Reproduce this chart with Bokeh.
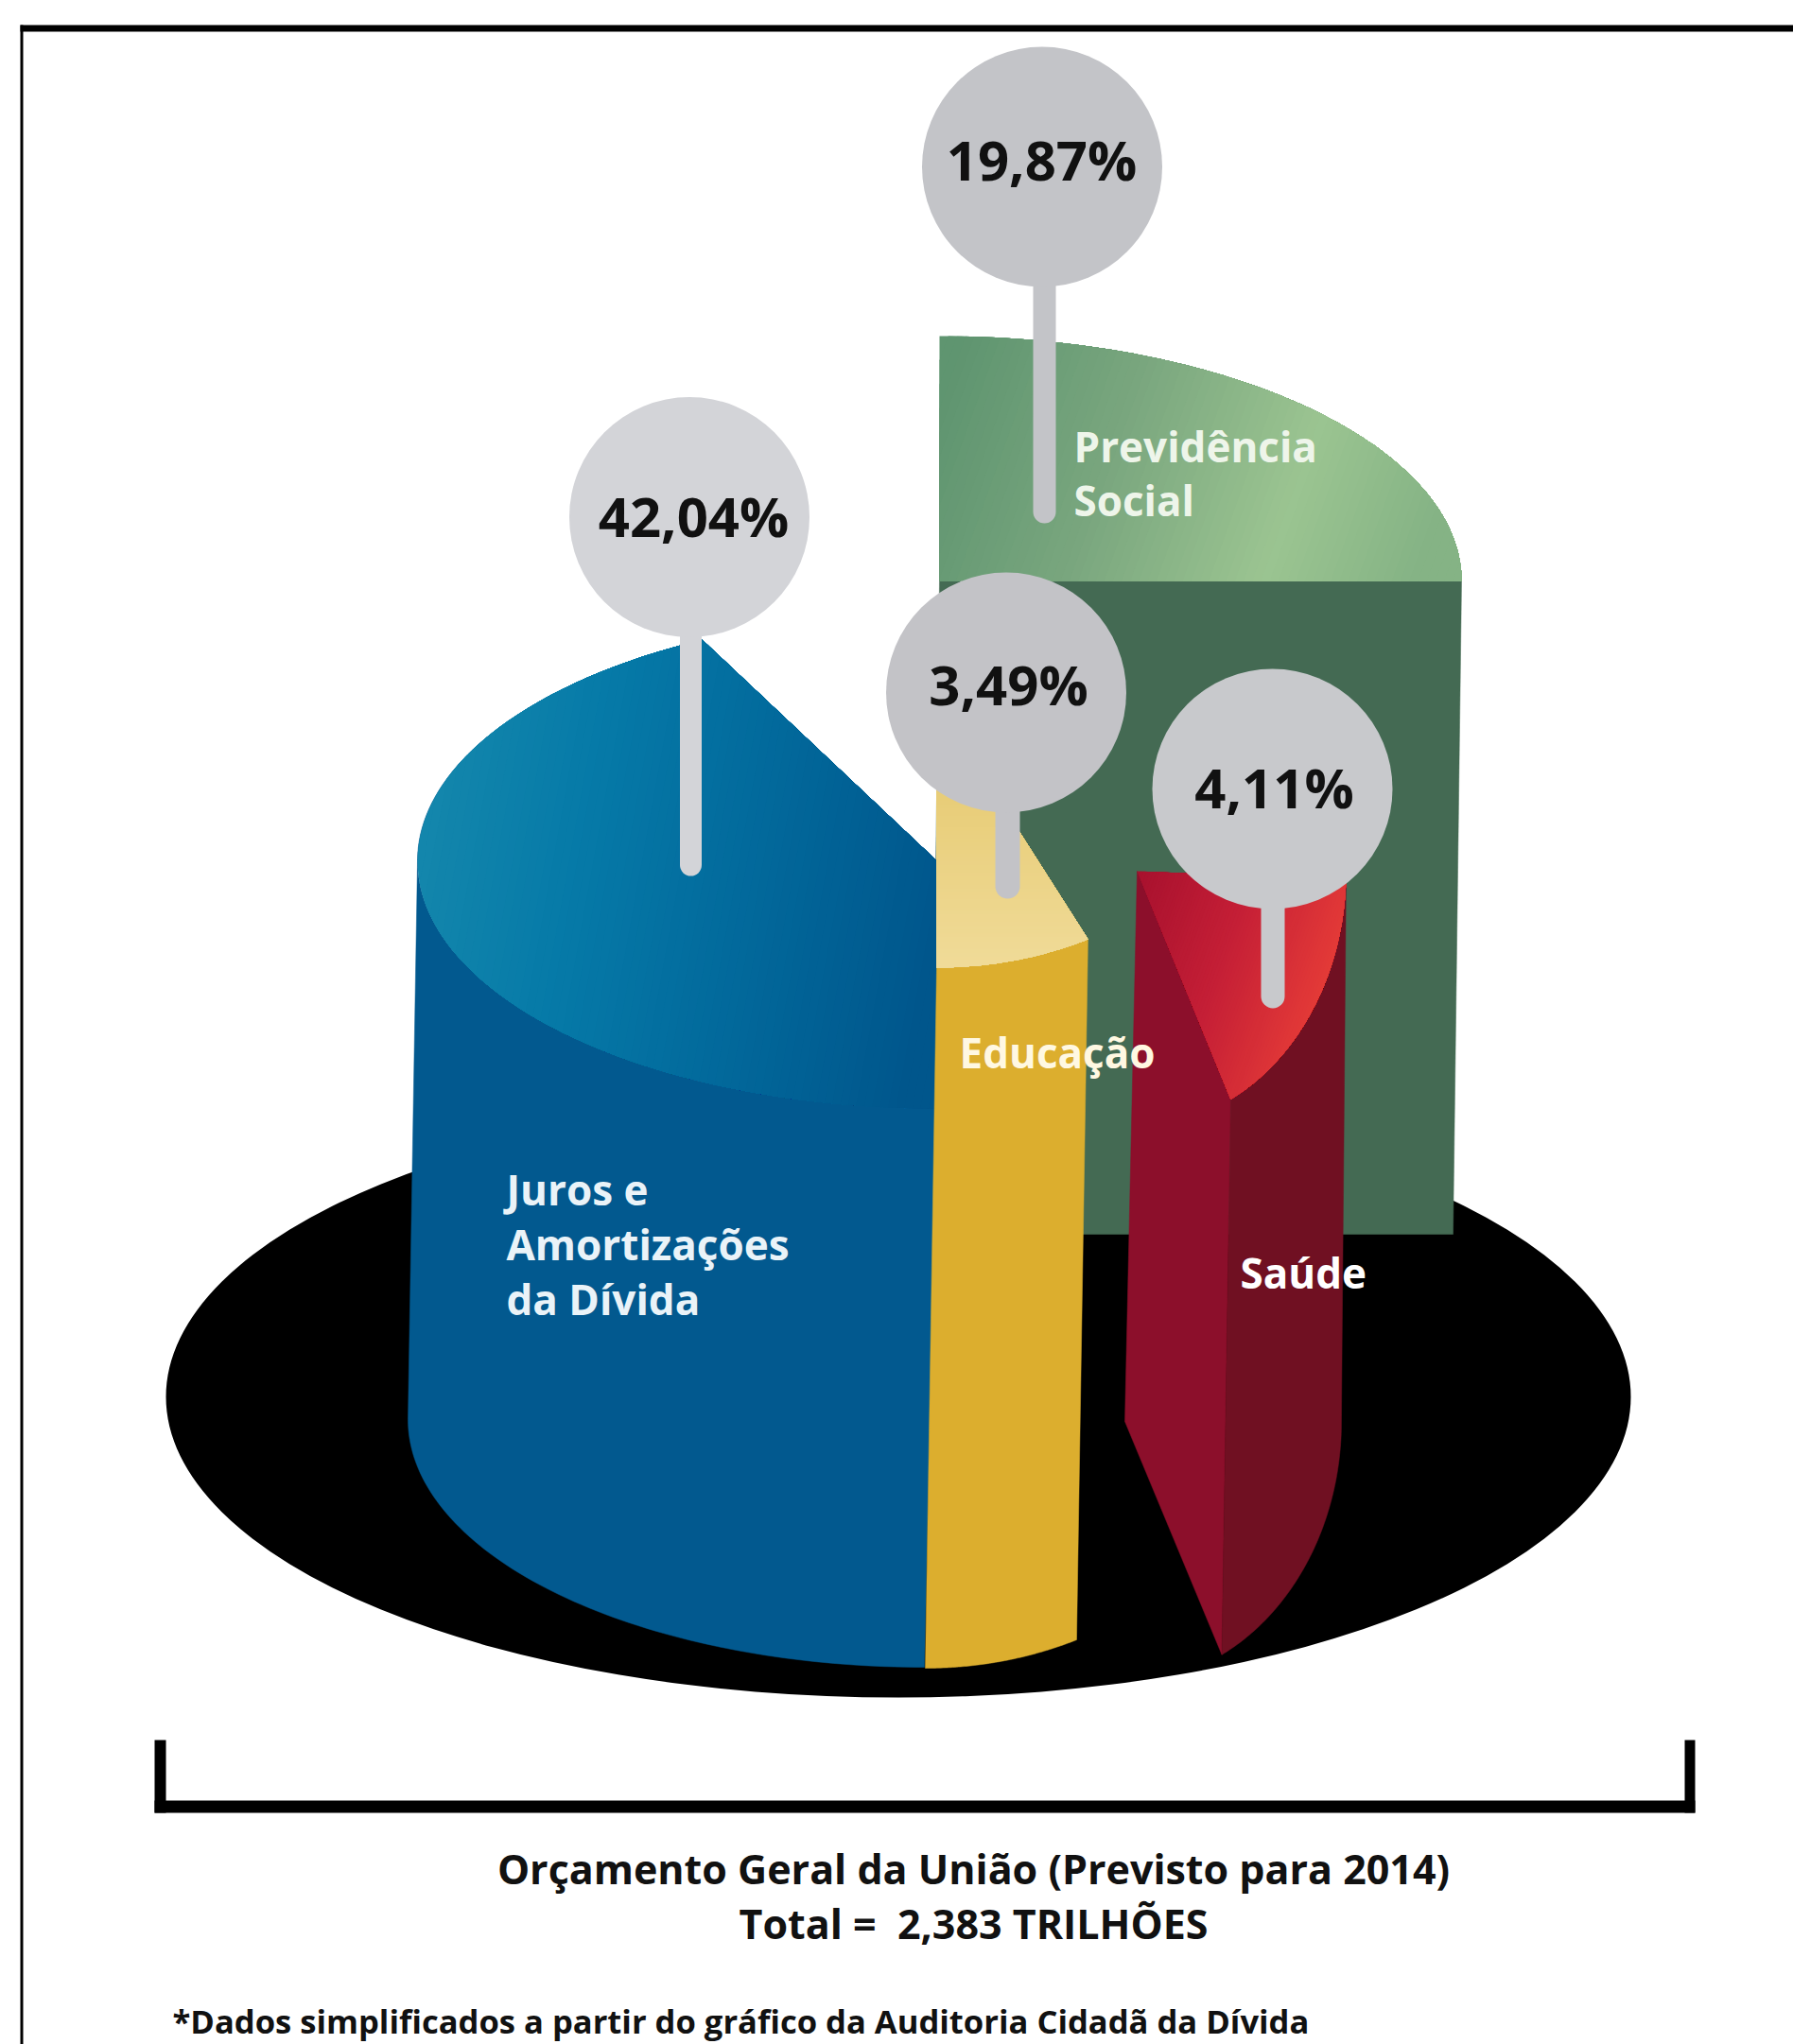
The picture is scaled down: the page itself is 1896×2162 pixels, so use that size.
from bokeh.embed import file_html
from bokeh.models import Range1d
from bokeh.plotting import figure
from bokeh.resources import INLINE
from bokeh.core.properties import value
import math

# Budget shares (%) and their labels
shares = [42.04, 3.49, 19.87, 4.11]
share_labels = ["42,04%", "3,49%", "19,87%", "4,11%"]
title_lines = ["Orçamento Geral da União (Previsto para 2014)", "Total =\u00a0 2,383 TRILHÕES"]
footnote = "*Dados simplificados a partir do gráfico da Auditoria Cidadã da Dívida"

W, H = 1896, 2162
FONT = "Open Sans"

# Each slice is a sector of an elliptic cylinder; the sweep comes from its share,
# times a per-slice foreshortening factor for the tilted view.
JUROS = dict(top=(990, 910), base=(977, 1501), rx=549, ry=262, start=270, sign=-1, stretch=1.012)
EDUC = dict(top=(990, 742), base=(978, 1483), rx=356, ry=281, start=270, sign=1, stretch=2.125)
PREV = dict(top=(993, 614), base=(984, 1305), rx=552, ry=259, start=0, sign=1, stretch=1.2582)
SAUDE = dict(top=(1202, 921), base=(1189, 1503), rx=221, ry=270, start=-63.4, sign=1, stretch=4.15)
JUROS_BASE = {**JUROS, "rx": 546}
SAUDE_BASE = {**SAUDE, "rx": 229, "ry": 276}


def rim(center, s, deg):
    a = math.radians(deg)
    return (center[0] + s["rx"] * math.cos(a), center[1] - s["ry"] * math.sin(a))


def sector_end(s, share):
    return s["start"] + s["sign"] * share * 3.6 * s["stretch"]


def arc(center, s, a0, a1, n=80):
    return [rim(center, s, a0 + (a1 - a0) * i / n) for i in range(n + 1)]


def clip(poly, n, lo, hi):
    # Keep the part of a convex polygon with lo <= dot(point, n) <= hi.
    def half(pts, f):
        out = []
        for i, q in enumerate(pts):
            r = pts[(i + 1) % len(pts)]
            fq, fr = f(q), f(r)
            if fq >= 0:
                out.append(q)
            if fq * fr < 0:
                t = fq / (fq - fr)
                out.append((q[0] + t * (r[0] - q[0]), q[1] + t * (r[1] - q[1])))
        return out
    d = lambda q: q[0] * n[0] + q[1] * n[1]
    res = half(poly, lambda q: d(q) - lo)
    return half(res, lambda q: hi - d(q)) if res else res


def mix(stops, t):
    for (t0, c0), (t1, c1) in zip(stops, stops[1:]):
        if t <= t1:
            u = (t - t0) / (t1 - t0)
            break
    else:
        return stops[-1][1]
    rgb = [int(c0[i:i + 2], 16) + u * (int(c1[i:i + 2], 16) - int(c0[i:i + 2], 16)) for i in (1, 3, 5)]
    return "#%02x%02x%02x" % tuple(round(v) for v in rgb)


def gradient(fig, poly, p0, p1, stops, steps=70):
    # Linear gradient painted as thin overlapping bands.
    dx, dy = p1[0] - p0[0], p1[1] - p0[1]
    L = math.hypot(dx, dy)
    n = (dx / L, dy / L)
    o = p0[0] * n[0] + p0[1] * n[1]
    vals = [q[0] * n[0] + q[1] * n[1] for q in poly]
    lo, hi = min(vals), max(vals)
    xs, ys, cols = [], [], []
    for i in range(steps):
        a = lo + (hi - lo) * i / steps
        band = clip(poly, n, a, hi)
        if len(band) < 3:
            continue
        xs.append([q[0] for q in band])
        ys.append([q[1] for q in band])
        cols.append(mix(stops, min(1, max(0, (a - o) / L))))
    fig.patches(xs, ys, fill_color=cols, line_color=None)


def fill(fig, poly, color):
    fig.patch([q[0] for q in poly], [q[1] for q in poly], fill_color=color, line_color=color, line_width=0.5)


p = figure(width=W, height=H, output_backend="svg", toolbar_location=None,
           x_range=Range1d(0, W), y_range=Range1d(H, 0), min_border=0,
           background_fill_color="#ffffff", border_fill_color="#ffffff", outline_line_color=None)
p.axis.visible = False
p.grid.visible = False

# Outer frame
p.quad(left=[21, 21], right=[W, 24], top=[26, 26], bottom=[33, H], fill_color="#000000", line_color=None)

# Base disc
p.ellipse(x=[949.5], y=[1477], width=[1549], height=[636], fill_color="#000000", line_color=None)

# Previdência Social
end = sector_end(PREV, shares[2])
fill(p, [PREV["top"], rim(PREV["top"], PREV, 0), rim(PREV["base"], PREV, 0), PREV["base"]], "#446a53")
gradient(p, [PREV["top"]] + arc(PREV["top"], PREV, 0, end), (999, 400), (1500, 580),
         [(0, "#5f9570"), (0.35, "#79a67e"), (0.72, "#9bc491"), (1, "#85b385")])

# Juros e Amortizações
end = sector_end(JUROS, shares[0])
fill(p, arc(JUROS["top"], JUROS, 150, 270) + arc(JUROS_BASE["base"], JUROS_BASE, 270, 180) + [rim(JUROS["top"], JUROS, 180)], "#02598f")
gradient(p, [JUROS["top"]] + arc(JUROS["top"], JUROS, end, 270), (441, 860), (990, 960),
         [(0, "#1487ac"), (0.3, "#067aa8"), (0.62, "#026a9c"), (1, "#00568c")])

# Educação
end = sector_end(EDUC, shares[1])
fill(p, arc(EDUC["top"], EDUC, 270, end) + arc(EDUC["base"], EDUC, end, 270), "#dcae2e")
gradient(p, [EDUC["top"]] + arc(EDUC["top"], EDUC, 270, end), (1070, 840), (1070, 1020),
         [(0, "#e8cd78"), (1, "#f0db98")])

# Saúde
end = sector_end(SAUDE, shares[3])
fill(p, [SAUDE["top"], rim(SAUDE["top"], SAUDE, SAUDE["start"]), rim(SAUDE_BASE["base"], SAUDE_BASE, SAUDE["start"]), SAUDE["base"]], "#8c0f2b")
fill(p, arc(SAUDE["top"], SAUDE, SAUDE["start"], end) + arc(SAUDE_BASE["base"], SAUDE_BASE, end, SAUDE["start"]), "#701022")
gradient(p, [SAUDE["top"]] + arc(SAUDE["top"], SAUDE, SAUDE["start"], end), (1202, 921), (1422, 1000),
         [(0, "#a8112e"), (0.5, "#c51f36"), (1, "#e63c37")])

# Value pins: head circle, stem, label
pins = [
    dict(c=(728.5, 546.5), r=127, tip=926, sx=730, w=23, col="#d3d4d8"),
    dict(c=(1063.5, 732), r=127, tip=950, sx=1065, w=26, col="#c3c3c7"),
    dict(c=(1101.5, 176), r=127, tip=553, sx=1104, w=24, col="#c3c4c8"),
    dict(c=(1345, 834), r=127, tip=1066, sx=1345.5, w=25, col="#c8c9cc"),
]
label_pos = [(733, 545), (1066, 723), (1101, 168), (1347, 832)]
for pin, txt, pos in zip(pins, share_labels, label_pos):
    p.line([pin["sx"], pin["sx"]], [pin["c"][1], pin["tip"] - pin["w"] / 2], line_width=pin["w"],
           line_color=pin["col"], line_cap="round")
    p.circle(x=[pin["c"][0]], y=[pin["c"][1]], radius=pin["r"], fill_color=pin["col"], line_color=None)
    p.text(x=[pos[0]], y=[pos[1]], text=[txt], text_font=value(FONT), text_font_style="bold",
           text_font_size="58px", text_align="center", text_baseline="middle", text_color="#111111")

# Slice names
names = [
    (["Juros e", "Amortizações", "da Dívida"], 535, [1257, 1315, 1373], "#eaf3f8"),
    (["Previdência", "Social"], 1135, [471, 528], "#eef5ea"),
    (["Educação"], 1014, [1112], "#fff8e2"),
    (["Saúde"], 1311, [1345], "#ffffff"),
]
for lines, x, ys, col in names:
    p.text(x=[x] * len(lines), y=ys, text=lines, text_font=value(FONT), text_font_style="bold",
           text_font_size="44px", text_align="left", text_baseline="middle", text_color=col)

# Bracket under the disc
p.quad(left=[163, 1781, 163], right=[175, 1792, 1792], top=[1840, 1840, 1904], bottom=[1917, 1917, 1917],
       fill_color="#000000", line_color=None)

# Caption
p.text(x=[1029, 1029], y=[1976, 2034], text=title_lines, text_font=value(FONT), text_font_style="bold",
       text_font_size="43px", text_align="center", text_baseline="middle", text_color="#111111")
p.text(x=[182], y=[2137], text=[footnote], text_font=value(FONT), text_font_style="bold",
       text_font_size="34.6px", text_align="left", text_baseline="middle", text_color="#111111")

open("out.html", "w").write(file_html(p, INLINE))
